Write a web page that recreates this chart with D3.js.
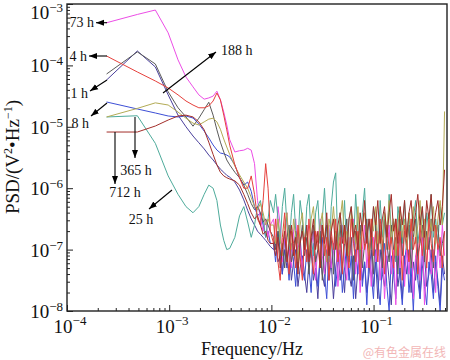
<!DOCTYPE html>
<html><head><meta charset="utf-8">
<script src="https://cdn.jsdelivr.net/npm/d3@7"></script>
<style>body{margin:0;background:#fff}svg{display:block}</style>
</head><body>
<svg id="c" width="450" height="360"></svg>
<script>
// Frequencies (Hz): low-frequency Welch bins, then the noisy high-frequency range
const smoothFreq = [2.44e-4,4.88e-4,7.32e-4,9.77e-4,1.22e-3,1.46e-3,1.71e-3,1.95e-3,2.2e-3,2.44e-3,2.69e-3,2.93e-3,3.17e-3,3.42e-3,3.66e-3,3.91e-3,
  4.39e-3,4.88e-3,5.37e-3,5.86e-3,6.35e-3,6.84e-3,7.32e-3,7.81e-3,8.3e-3,8.79e-3,9.28e-3,9.77e-3];
const noiseFreq = [0.0105,0.011,0.0116,0.0122,0.0128,0.0135,0.0142,0.0149,0.0157,0.0165,0.0173,0.0182,0.0191,0.0201,0.0211,0.0222,0.0233,0.0245,0.0258,0.0271,
  0.0285,0.03,0.0315,0.0331,0.0348,0.0366,0.0385,0.0405,0.0426,0.0448,0.0471,0.0495,0.052,0.0547,0.0575,0.0605,0.0636,0.0668,0.0703,0.0739,
  0.0777,0.0817,0.0859,0.0903,0.0949,0.0998,0.105,0.11,0.116,0.122,0.128,0.135,0.142,0.149,0.157,0.165,0.173,0.182,0.191,0.201,
  0.211,0.222,0.233,0.245,0.258,0.271,0.285,0.3,0.315,0.331,0.348,0.366,0.385,0.405,0.426,0.448,0.471,0.495];
const frequency = smoothFreq.concat(noiseFreq);

// log10 of PSD (V^2/Hz) for each immersion time
const lgPsd_1h = [-4.238,-3.765,-4.026,-4.48,-4.81,-5.00,-5.15,-5.26,-5.36,-5.46,-5.54,-5.62,-5.69,-5.74,-5.79,-5.82,
  -5.90,-6.03,-6.19,-6.36,-6.5,-6.6,-6.7,-6.75,-6.8,-6.85,-6.9,-6.95,
  -7.0,-6.9,-7.2,-7.1,-7.4,-7.0,-7.3,-6.9,-7.5,-7.2,-7.0,-7.6,-7.3,-7.1,
  -7.4,-7.7,-7.2,-7.0,-7.5,-7.3,-7.8,-7.1,-7.4,-7.6,-7.0,-7.5,-7.2,-7.8,-7.3,-7.0,
  -7.5,-7.2,-7.7,-7.0,-7.4,-7.6,-7.1,-7.8,-7.3,-7.0,-7.5,-7.2,-7.7,-7.4,-7.0,-7.6,
  -7.2,-7.8,-7.0,-7.4,-7.6,-7.1,-7.5,-7.9,-7.2,-7.0,-7.6,-7.3,-7.8,-7.1,-7.4,-7.0,
  -7.7,-7.2,-7.5,-7.0,-7.8,-7.3,-7.1,-7.6,-7.4,-7.0,-7.7,-7.2,-7.5,-7.9,-7.1,-7.4];
const lgPsd_4h = [-3.847,-4.107,-4.254,-4.368,-4.48,-4.58,-4.645,-4.69,-4.69,-4.66,-4.58,-4.45,-4.56,-4.81,-5.05,-5.30,
  -5.62,-5.83,-6.0,-6.0,-5.8,-6.1,-6.5,-6.6,-6.2,-5.6,-6.0,-6.7,
  -6.9,-6.5,-7.2,-7.5,-6.8,-6.4,-7.0,-7.4,-6.7,-6.9,-7.3,-6.6,-7.1,-7.5,
  -6.8,-7.2,-6.5,-7.0,-7.4,-6.7,-6.9,-7.3,-6.6,-7.1,-6.8,-7.5,-6.7,-7.0,-6.5,-7.2,
  -6.8,-7.4,-6.6,-7.0,-7.3,-6.5,-6.9,-7.2,-6.7,-7.5,-6.6,-7.0,-6.8,-7.3,-6.5,-7.1,
  -6.7,-7.2,-6.5,-6.9,-7.4,-6.6,-7.0,-6.8,-7.3,-6.5,-7.1,-6.7,-7.5,-6.6,-6.9,-7.2,
  -6.5,-7.0,-6.8,-7.4,-6.6,-7.1,-6.7,-7.3,-6.5,-6.9,-7.2,-6.6,-7.0,-6.8,-7.3,-6.7];
const lgPsd_8h = [-4.596,-4.71,-4.775,-4.824,-4.84,-4.824,-4.857,-4.954,-5.07,-5.18,-5.296,-5.378,-5.427,-5.44,-5.46,-5.49,
  -5.62,-5.83,-5.95,-5.9,-6.05,-6.3,-6.45,-6.4,-6.6,-6.8,-6.7,-6.9,
  -6.9,-7.2,-6.7,-7.0,-7.4,-6.8,-7.1,-7.5,-6.9,-7.2,-7.6,-7.0,-6.8,-7.3,
  -7.5,-7.0,-7.3,-7.7,-6.9,-7.2,-7.6,-7.1,-6.8,-7.4,-7.8,-7.0,-7.3,-6.9,-7.6,-7.2,
  -7.0,-7.7,-7.3,-6.9,-7.5,-7.1,-7.8,-7.0,-7.4,-6.8,-7.6,-7.2,-7.9,-7.1,-7.4,-7.8,
  -7.0,-7.5,-7.9,-7.2,-6.9,-7.6,-8.0,-7.1,-7.4,-7.8,-7.0,-7.5,-7.9,-7.2,-6.9,-7.7,
  -7.3,-8.0,-7.1,-7.5,-7.8,-7.0,-7.6,-7.9,-7.2,-7.4,-7.8,-7.1,-7.6,-8.0,-7.3,-7.5];
const lgPsd_25h = [-4.84,-4.82,-5.27,-5.8,-6.1,-6.3,-6.4,-6.3,-6.1,-5.95,-6.0,-6.2,-6.6,-6.85,-7.0,-6.98,
  -6.8,-6.45,-6.3,-6.55,-6.8,-6.6,-6.3,-6.2,-6.5,-6.8,-6.5,-6.2,
  -6.4,-6.1,-6.5,-6.9,-6.3,-6.0,-6.6,-7.0,-6.4,-6.1,-6.7,-6.9,-6.2,-6.5,
  -7.0,-6.3,-6.1,-6.8,-7.1,-6.4,-6.2,-6.9,-6.5,-6.0,-6.7,-7.2,-6.3,-5.9,-5.75,-7.0,
  -6.4,-6.8,-6.2,-7.1,-6.5,-6.3,-6.9,-6.1,-6.7,-7.2,-6.4,-6.0,-6.8,-6.5,-7.0,-6.3,
  -6.6,-7.1,-6.2,-6.8,-6.4,-7.0,-6.1,-6.7,-6.5,-7.2,-6.3,-6.6,-6.9,-6.2,-6.8,-6.4,
  -7.0,-6.5,-6.2,-6.9,-6.6,-6.3,-7.1,-6.4,-6.7,-6.1,-6.8,-6.5,-6.9,-6.3,-6.6,-6.4];
const lgPsd_73h = [-3.305,-3.17,-3.098,-3.47,-3.91,-4.19,-4.35,-4.48,-4.55,-4.53,-4.50,-4.42,-4.56,-4.76,-4.97,-5.21,
  -5.41,-5.39,-5.38,-5.35,-5.38,-5.6,-6.2,-6.5,-6.7,-6.5,-6.8,-6.6,
  -6.5,-6.9,-6.3,-6.6,-7.2,-6.8,-6.4,-7.0,-7.3,-6.7,-6.5,-7.1,-6.9,-7.4,
  -6.8,-6.6,-7.2,-7.0,-6.7,-7.5,-6.9,-6.5,-7.1,-7.4,-6.8,-6.6,-7.3,-7.0,-6.7,-7.6,
  -7.0,-6.6,-7.2,-7.5,-6.8,-7.1,-6.5,-7.4,-6.9,-7.7,-7.0,-6.6,-7.3,-6.9,-7.6,-6.8,
  -7.2,-6.7,-7.5,-6.9,-7.8,-7.1,-6.6,-7.4,-7.0,-7.9,-6.8,-7.3,-6.7,-7.6,-7.0,-7.4,
  -6.6,-7.8,-7.1,-6.9,-7.5,-6.7,-7.9,-7.2,-6.8,-7.4,-7.0,-7.7,-6.9,-7.3,-6.6,-7.1];
const lgPsd_188h = [-4.14,-3.78,-3.977,-4.43,-4.69,-4.84,-4.99,-4.86,-4.72,-4.60,-4.81,-5.05,-5.25,-5.41,-5.54,-5.62,
  -5.74,-5.83,-5.95,-6.1,-6.25,-6.35,-6.3,-6.4,-6.55,-6.5,-6.6,-6.7,
  -6.8,-7.0,-6.7,-7.1,-6.9,-7.3,-6.8,-6.6,-7.2,-7.0,-6.7,-7.3,-6.9,-6.6,
  -7.1,-6.8,-7.4,-6.9,-6.6,-7.2,-7.0,-6.7,-7.5,-6.9,-6.6,-7.1,-6.8,-7.4,-6.7,-7.0,
  -6.6,-7.3,-6.9,-6.5,-7.2,-6.8,-7.5,-6.7,-7.0,-6.6,-7.3,-6.9,-6.5,-7.1,-6.8,-7.4,
  -6.6,-7.0,-6.7,-7.3,-6.5,-6.9,-7.2,-6.6,-7.0,-6.8,-7.4,-6.5,-7.1,-6.7,-7.0,-6.6,
  -7.3,-6.8,-6.5,-7.1,-6.9,-6.6,-7.2,-6.7,-7.0,-6.5,-7.3,-6.8,-6.6,-7.1,-6.9,-6.7];
const lgPsd_365h = [-4.84,-4.70,-4.61,-4.645,-4.76,-4.86,-4.94,-4.97,-4.92,-4.875,-4.86,-4.92,-5.04,-5.2,-5.33,-5.45,
  -5.64,-5.785,-5.9,-6.0,-6.15,-6.3,-6.35,-6.25,-6.4,-6.6,-6.5,-6.6,
  -6.6,-6.9,-6.5,-6.8,-7.1,-6.6,-6.4,-6.9,-7.0,-6.5,-6.8,-7.2,-6.6,-6.4,
  -6.9,-6.7,-7.1,-6.5,-6.3,-6.8,-7.0,-6.6,-6.4,-6.9,-7.2,-6.5,-6.7,-6.3,-6.8,-7.0,
  -6.5,-6.2,-6.9,-6.7,-7.1,-6.4,-6.6,-6.9,-6.3,-7.0,-6.6,-6.4,-6.8,-7.1,-6.5,-6.7,
  -6.3,-6.9,-6.6,-7.0,-6.4,-6.7,-6.2,-6.9,-6.5,-7.1,-6.6,-6.3,-6.8,-6.5,-7.0,-6.4,
  -6.7,-6.3,-6.9,-6.6,-6.2,-6.8,-6.5,-7.0,-6.4,-6.7,-6.3,-6.9,-6.5,-6.2,-6.6,-4.75];
const lgPsd_712h = [-5.085,-5.085,-4.987,-4.89,-4.824,-4.81,-4.84,-4.92,-5.05,-5.25,-5.45,-5.62,-5.74,-5.8,-5.83,-5.85,
  -5.88,-5.95,-6.1,-6.25,-6.4,-6.5,-6.45,-6.6,-6.75,-6.7,-6.85,-6.9,
  -6.9,-7.1,-6.8,-7.3,-7.0,-6.7,-7.2,-6.9,-6.6,-7.1,-6.8,-7.4,-6.9,-6.7,
  -7.0,-6.6,-7.2,-6.8,-6.5,-7.0,-6.7,-7.3,-6.6,-6.9,-6.4,-7.1,-6.7,-6.5,-7.0,-6.6,
  -6.4,-6.9,-6.6,-7.1,-6.5,-6.3,-6.8,-6.6,-7.0,-6.4,-6.7,-6.2,-6.9,-6.5,-6.8,-6.3,
  -6.6,-6.2,-6.9,-6.5,-6.3,-6.8,-6.4,-6.1,-6.7,-6.5,-6.9,-6.3,-6.6,-6.2,-6.8,-6.4,
  -6.2,-6.7,-6.4,-6.1,-6.6,-6.3,-6.8,-6.2,-6.5,-6.1,-6.7,-6.4,-6.2,-6.6,-6.3,-5.7];

const seriesNames = ["1 h","8 h","73 h","25 h","188 h","365 h","4 h","712 h"];
const seriesColors = ["#4a3f9c","#3d4fd6","#ec4de6","#4eab9b","#5a5a5a","#b3ab55","#e6403c","#a32e2a"];
const seriesValues = [lgPsd_1h,lgPsd_8h,lgPsd_73h,lgPsd_25h,lgPsd_188h,lgPsd_365h,lgPsd_4h,lgPsd_712h];
const decadeExponents = [-4,-3,-2,-1];
const yDecadeExponents = [-8,-7,-6,-5,-4,-3];

const annotations = [
  {t:"73 h", x1:107,y1:22.7,x2:96,y2:22.7, tx:94,ty:27,a:"end"},
  {t:"4 h", x1:107,y1:56,x2:89,y2:56, tx:87,ty:61,a:"end"},
  {t:"1 h", x1:107,y1:80,x2:90,y2:91, tx:88,ty:98,a:"end"},
  {t:"8 h", x1:107,y1:103,x2:91,y2:116, tx:89,ty:128,a:"end"},
  {t:"365 h", x1:135,y1:117,x2:135,y2:158, tx:136,ty:175,a:"middle"},
  {t:"712 h", x1:115,y1:132,x2:115,y2:184, tx:125,ty:197,a:"middle"},
  {t:"25 h", x1:172,y1:190,x2:149,y2:209, tx:141,ty:224,a:"middle"},
  {t:"188 h", x1:163,y1:93,x2:216,y2:52, tx:221,ty:55,a:"start"}
];

const L=67, R=447, T=4, B=311;
const x = d3.scaleLog().domain([1e-4,0.5]).range([67,445]);
const y = d3.scaleLog().domain([1e-8,1e-3]).range([B,T]);
const svg = d3.select("#c");
const serif = "'Liberation Serif','Times New Roman',serif";

svg.append("defs").append("marker").attr("id","ah").attr("markerUnits","userSpaceOnUse")
  .attr("viewBox","0 -4 8 8").attr("refX",8).attr("refY",0).attr("markerWidth",8).attr("markerHeight",8).attr("orient","auto")
  .append("path").attr("d","M0,-3L8,0L0,3Z").attr("fill","#000");

svg.append("clipPath").attr("id","pc").append("rect").attr("x",L).attr("y",T).attr("width",R-L).attr("height",B-T);

const line = d3.line().x(d=>x(d[0])).y(d=>y(d[1])).curve(d3.curveLinear);
const g = svg.append("g").attr("clip-path","url(#pc)");
seriesValues.forEach((vals,i)=>{
  const pts = frequency.map((f,j)=>[f, Math.pow(10, vals[j])]);
  g.append("path").attr("d",line(pts)).attr("fill","none").attr("stroke",seriesColors[i])
    .attr("stroke-width",1).attr("stroke-linejoin","round");
});

// ticks
const xMajor = decadeExponents.map(e=>Math.pow(10,e));
const xMinor = x.ticks().filter(v=>Math.abs(Math.log10(v)-Math.round(Math.log10(v)))>1e-6);
const yMajor = yDecadeExponents.map(e=>Math.pow(10,e));
const yMinor = y.ticks().filter(v=>Math.abs(Math.log10(v)-Math.round(Math.log10(v)))>1e-6);

function styleAxis(sel){ sel.select(".domain").remove(); sel.selectAll("line").attr("stroke","#222").attr("stroke-width",1); }
svg.append("g").attr("transform",`translate(0,${B})`).call(d3.axisBottom(x).tickValues(xMinor).tickSize(-3).tickFormat("")).call(styleAxis);
svg.append("g").attr("transform",`translate(0,${B})`).call(d3.axisBottom(x).tickValues(xMajor).tickSize(-6).tickFormat("")).call(styleAxis);
svg.append("g").attr("transform",`translate(${L},0)`).call(d3.axisLeft(y).tickValues(yMinor).tickSize(-3).tickFormat("")).call(styleAxis);
svg.append("g").attr("transform",`translate(${L},0)`).call(d3.axisLeft(y).tickValues(yMajor).tickSize(-6).tickFormat("")).call(styleAxis);

// frame
svg.append("rect").attr("x",L).attr("y",T).attr("width",R-L).attr("height",B-T).attr("fill","none").attr("stroke","#222").attr("stroke-width",1.4);

// tick labels
decadeExponents.forEach(e=>{
  const t = svg.append("text").attr("x",x(Math.pow(10,e))+3).attr("y",333).attr("text-anchor","middle")
    .attr("font-family",serif).attr("font-size",19).attr("fill","#111");
  t.append("tspan").text("10");
  t.append("tspan").attr("dy",-8).attr("font-size",13).text("\u2212"+Math.abs(e));
});
yDecadeExponents.forEach(e=>{
  const t = svg.append("text").attr("x",63).attr("y",Math.max(y(Math.pow(10,e))+7,19)).attr("text-anchor","end")
    .attr("font-family",serif).attr("font-size",19).attr("fill","#111");
  t.append("tspan").text("10");
  t.append("tspan").attr("dy",-7).attr("font-size",13).text("\u2212"+Math.abs(e));
});

// axis titles
svg.append("text").attr("x",252).attr("y",355).attr("text-anchor","middle").attr("font-family",serif).attr("font-size",18).attr("fill","#111").text("Frequency/Hz");
const yt = svg.append("text").attr("transform","translate(19,157) rotate(-90)").attr("text-anchor","middle")
  .attr("font-family",serif).attr("font-size",19).attr("fill","#111");
yt.append("tspan").text("PSD/(V");
yt.append("tspan").attr("dy",-7).attr("font-size",12).text("2");
yt.append("tspan").attr("dy",7).text("\u2022Hz");
yt.append("tspan").attr("dy",-7).attr("font-size",12).text("\u22121");
yt.append("tspan").attr("dy",7).text(")");

// annotations
annotations.forEach(a=>{
  svg.append("line").attr("x1",a.x1).attr("y1",a.y1).attr("x2",a.x2).attr("y2",a.y2)
    .attr("stroke","#000").attr("stroke-width",1.1).attr("marker-end","url(#ah)");
  svg.append("text").attr("x",a.tx).attr("y",a.ty).attr("text-anchor",a.a).attr("font-family",serif)
    .attr("font-size",14).attr("fill","#111").text(a.t);
});

// watermark
svg.append("text").attr("x",446).attr("y",357).attr("text-anchor","end").attr("font-family","'Noto Sans CJK SC',sans-serif")
  .attr("font-size",12).attr("fill","#f2b6b6").text("@有色金属在线");
</script>
</body></html>
